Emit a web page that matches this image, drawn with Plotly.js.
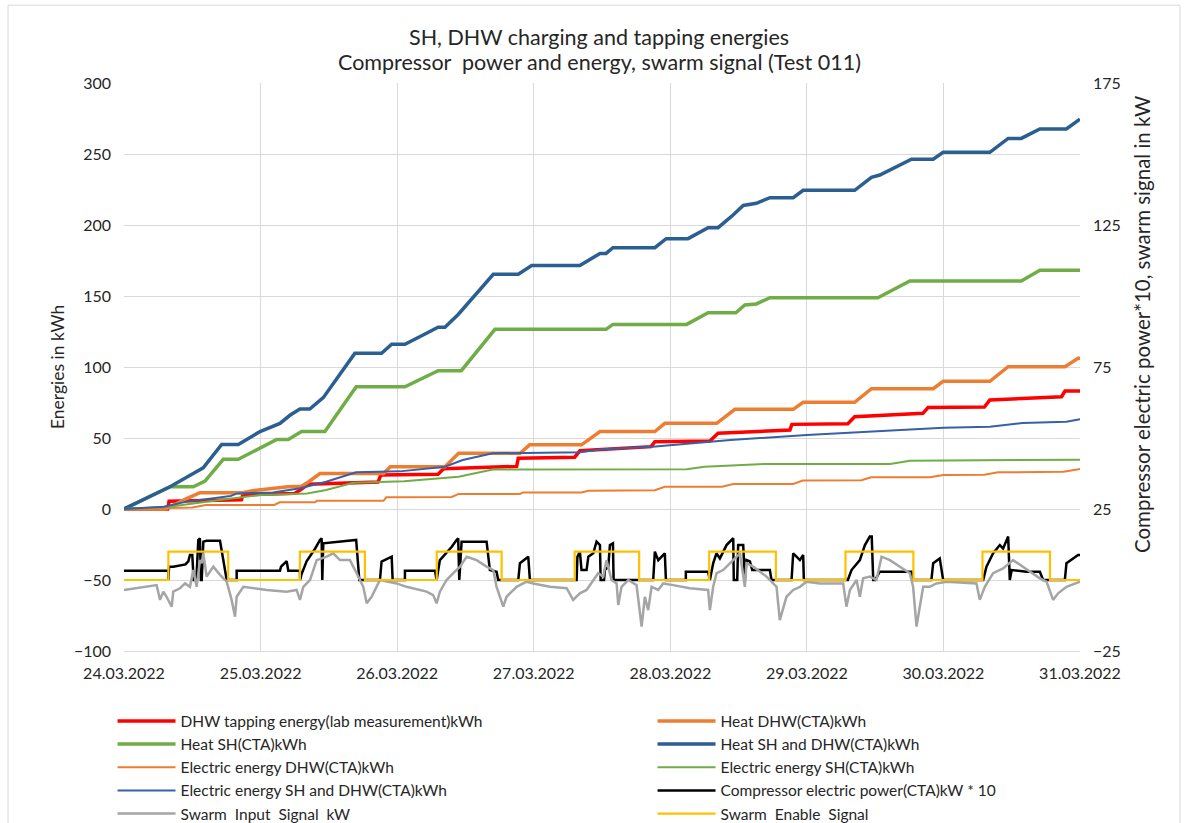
<!DOCTYPE html>
<html>
<head>
<meta charset="utf-8">
<script src="https://cdn.plot.ly/plotly-3.0.1.min.js"></script>
<style>
  html, body { margin: 0; padding: 0; background: #fff; }
  #chart { width: 1189px; height: 823px; }
</style>
</head>
<body>
<div id="chart"></div>
<script>
// ---- Data (time in days after 24.03.2022 00:00) ----
const tickDates = ["2022-03-24","2022-03-25","2022-03-26","2022-03-27","2022-03-28","2022-03-29","2022-03-30","2022-03-31"];
const titleLines = ["SH, DHW charging and tapping energies", "Compressor  power and energy, swarm signal (Test 011)"];

// DHW tapping energy (lab measurement) kWh
const tTapping = [0, 0.32, 0.33, 0.86, 0.87, 1.25, 1.29, 1.35, 1.86, 1.88, 2.30, 2.34, 2.875, 2.887, 3.30, 3.338, 3.86, 3.887, 4.29, 4.35, 4.876, 4.89, 5.30, 5.35, 5.85, 5.887, 6.30, 6.34, 6.865, 6.89, 7.0];
const vTapping = [0, 0, 5.5, 6.5, 9.9, 11, 13.4, 17.5, 19, 23.9, 24.5, 28.4, 30, 35.7, 36.5, 41, 43.9, 47.4, 47.8, 53.3, 55.6, 59.6, 60, 65, 67.4, 71.4, 71.8, 76.8, 79.1, 83.1, 83.1];

// Heat DHW (CTA) kWh
const tHeatDHW = [0, 0.30, 0.34, 0.45, 0.556, 0.87, 0.95, 1.20, 1.30, 1.35, 1.435, 1.90, 1.95, 2.35, 2.45, 2.90, 2.97, 3.35, 3.485, 3.887, 3.96, 4.34, 4.473, 4.90, 4.973, 5.35, 5.473, 5.925, 5.998, 6.34, 6.474, 6.89, 6.986, 7.0];
const vHeatDHW = [0, 0, 1.6, 7, 11.5, 11.5, 13, 15.7, 16, 19, 25, 25, 29.8, 29.8, 39.2, 39.2, 45.2, 45.2, 54.5, 54.5, 60.3, 60.3, 70.2, 70.2, 75.1, 75.1, 84.7, 84.7, 89.9, 89.9, 100.2, 100.2, 106.1, 106.1];

// Heat SH (CTA) kWh
const tHeatSH = [0, 0.337, 0.507, 0.593, 0.727, 0.837, 1.118, 1.203, 1.30, 1.471, 1.70, 2.057, 2.30, 2.47, 2.716, 3.53, 3.58, 4.12, 4.277, 4.48, 4.546, 4.63, 4.73, 5.52, 5.754, 6.57, 6.706, 7.0];
const vHeatSH = [0, 15.7, 15.7, 19.7, 35, 35, 49, 49, 54.5, 54.5, 86.1, 86.1, 97.4, 97.4, 126.5, 126.5, 130, 130, 138.2, 138.2, 143.7, 144.4, 148.8, 148.8, 160.6, 160.6, 168.1, 168.1];

// Heat SH and DHW (CTA) kWh
const tHeatTotal = [0, 0.337, 0.507, 0.58, 0.715, 0.837, 0.996, 1.142, 1.215, 1.288, 1.36, 1.459, 1.69, 1.886, 1.96, 2.057, 2.19, 2.30, 2.35, 2.447, 2.704, 2.887, 2.985, 3.338, 3.485, 3.53, 3.58, 3.887, 3.97, 4.13, 4.277, 4.35, 4.46, 4.534, 4.63, 4.73, 4.90, 4.973, 5.35, 5.473, 5.534, 5.766, 5.925, 5.998, 6.34, 6.474, 6.57, 6.706, 6.90, 6.986, 7.0];
const vHeatTotal = [0, 15.7, 25, 29, 45.5, 45.5, 54.5, 60.3, 66, 70.4, 70.4, 78.4, 109.6, 109.6, 116, 116, 122.5, 128, 128, 137, 165.3, 165.3, 171.4, 171.4, 180, 180, 184, 184, 190.4, 190.4, 198.1, 198.1, 207, 213.8, 215.3, 219.2, 219.2, 224.4, 224.4, 233.6, 235.2, 246.3, 246.3, 251.2, 251.2, 261, 261, 267.6, 267.6, 274.2, 274.5];

// Electric energy DHW (CTA) kWh
const tElecDHW = [0, 0.5, 0.6, 1.1, 1.14, 1.40, 1.41, 1.90, 1.92, 2.40, 2.45, 2.90, 2.92, 3.35, 3.40, 3.887, 3.96, 4.38, 4.46, 4.90, 4.97, 5.40, 5.47, 5.90, 6.0, 6.30, 6.40, 6.88, 7.0];
const vElecDHW = [0, 1, 2.8, 2.8, 4.7, 4.7, 5.8, 5.8, 8.2, 8.5, 10.6, 10.6, 11.7, 11.7, 12.9, 13.2, 15.7, 15.7, 17.6, 17.6, 20, 20.2, 22.3, 22.3, 24, 24.2, 25.8, 26.2, 28.2];

// Electric energy SH (CTA) kWh
const tElecSH = [0, 0.33, 0.70, 0.90, 1.0, 1.34, 1.48, 1.68, 2.0, 2.05, 2.45, 2.70, 4.12, 4.25, 4.69, 5.61, 5.754, 7.0];
const vElecSH = [0, 1.6, 6.3, 8.7, 9.9, 11, 13.4, 18.5, 19.2, 19.5, 22.7, 27.8, 28, 29.8, 31.7, 31.7, 34, 34.7];

// Electric energy SH and DHW (CTA) kWh
const tElecTotal = [0, 0.29, 0.46, 0.78, 0.83, 1.09, 1.29, 1.48, 1.70, 2.02, 2.35, 2.48, 2.70, 3.34, 3.5, 3.87, 4.44, 5.0, 5.48, 6.0, 6.34, 6.58, 6.9, 7.0];
const vElecTotal = [0, 1.6, 5.2, 9.2, 11, 11.7, 14.6, 19.2, 25.8, 26.5, 29.8, 34.5, 39.2, 40, 42, 43.9, 48.6, 52.1, 54.5, 57.3, 58, 60.5, 61.5, 63.2];

// Compressor electric power (CTA) kW * 10  (right axis)
const tCompressor = [0, 0.325, 0.325, 0.33, 0.361, 0.45, 0.471, 0.483, 0.50, 0.51,
  0.53, 0.544, 0.556, 0.563, 0.569, 0.581, 0.605, 0.703, 0.752, 0.825,
  0.825, 1.142, 1.15, 1.191, 1.203, 1.288, 1.29, 1.30, 1.337, 1.40,
  1.435, 1.447, 1.452, 1.459, 1.70, 1.723, 1.874, 1.886, 1.96, 1.967,
  2.057, 2.057, 2.277, 2.289, 2.313, 2.40, 2.435, 2.447, 2.455, 2.472,
  2.655, 2.679, 2.728, 2.74, 2.887, 2.899, 2.96, 2.972, 3.314, 3.32,
  3.338, 3.35, 3.387, 3.40, 3.436, 3.46, 3.485, 3.49, 3.515, 3.521,
  3.546, 3.558, 3.58, 3.585, 3.875, 3.887, 3.912, 3.96, 3.968, 4.114,
  4.114, 4.277, 4.29, 4.314, 4.338, 4.363, 4.412, 4.461, 4.465, 4.49,
  4.497, 4.534, 4.546, 4.558, 4.583, 4.60, 4.729, 4.741, 4.888, 4.9,
  4.949, 4.973, 4.978, 5.30, 5.327, 5.388, 5.425, 5.461, 5.475, 5.486,
  5.50, 5.534, 5.766, 5.778, 5.912, 5.925, 5.973, 5.998, 6.291, 6.315,
  6.364, 6.413, 6.437, 6.474, 6.486, 6.50, 6.608, 6.706, 6.73, 6.889,
  6.901, 6.95, 6.986, 7.0];
const vCompressor = [3.3, 3.3, 0, 4.7, 4.7, 5.5, 6.6, 8.8, 8.8, 0,
  0, 14.1, 14.7, 0, 0, 13.5, 13.8, 13.8, 0, 0,
  3.3, 3.3, 4.7, 6.6, 3.3, 3.3, 0, 2.0, 6.6, 11.1,
  14.1, 14.7, 0, 12.9, 14.1, 0, 0, 6.5, 8.2, 0,
  0, 3.3, 3.3, 0, 7.0, 11.7, 14.1, 14.7, 0, 13.5,
  13.5, 3.5, 2.9, 0, 0, 5.9, 8.2, 0, 0, 8.2,
  10, 3.5, 3.5, 8.2, 9.4, 13.5, 12.3, 0, 0, 3.5,
  4.7, 12.3, 12.9, 0, 0, 10, 7.0, 9.4, 0, 0,
  2.9, 2.9, 0, 5.9, 9.4, 7.6, 12.3, 14.7, 0, 0,
  12.3, 12.3, 0, 7.0, 6.5, 3.5, 3.5, 0, 0, 9.4,
  7.0, 8.8, 0, 0, 3.5, 7.0, 12.3, 15.3, 15.3, 0,
  0, 2.9, 2.9, 0, 0, 5.9, 7.6, 0, 0, 4.7,
  9.4, 12.3, 11.1, 15.3, 0, 3.5, 2.9, 2.9, 0, 0,
  5.9, 7.6, 8.8, 8.8];

// Swarm Input Signal kW (right axis)
const tSwarmInput = [0, 0.239, 0.264, 0.288, 0.312, 0.349, 0.361, 0.41, 0.447, 0.483,
  0.507, 0.532, 0.556, 0.569, 0.581, 0.605, 0.654, 0.703, 0.752, 0.788,
  0.813, 0.825, 0.874, 0.947, 1.045, 1.191, 1.264, 1.288, 1.313, 1.362,
  1.411, 1.484, 1.532, 1.581, 1.654, 1.703, 1.752, 1.777, 1.813, 1.874,
  1.947, 1.996, 2.069, 2.216, 2.264, 2.289, 2.313, 2.362, 2.411, 2.46,
  2.509, 2.582, 2.655, 2.704, 2.728, 2.777, 2.801, 2.875, 2.948, 2.996,
  3.119, 3.241, 3.289, 3.338, 3.387, 3.436, 3.472, 3.509, 3.533, 3.570,
  3.607, 3.619, 3.643, 3.692, 3.753, 3.790, 3.814, 3.838, 3.863, 3.912,
  3.948, 4.021, 4.143, 4.277, 4.29, 4.314, 4.339, 4.387, 4.436, 4.485,
  4.51, 4.546, 4.558, 4.607, 4.705, 4.778, 4.802, 4.851, 4.9, 4.949,
  4.998, 5.095, 5.266, 5.29, 5.315, 5.364, 5.388, 5.412, 5.461, 5.51,
  5.547, 5.608, 5.681, 5.754, 5.778, 5.803, 5.827, 5.852, 5.9, 5.949,
  6.023, 6.242, 6.266, 6.303, 6.364, 6.437, 6.51, 6.584, 6.657, 6.706,
  6.755, 6.803, 6.84, 6.901, 7.0];
const vSwarmInput = [-3.5, -1.8, -7.0, -4.1, -5.9, -9.4, -4.1, -2.9, -1.2, -2.4,
  3.5, -2.4, 7.0, 5.9, 9.4, 1.2, 4.7, 1.8, -0.6, -7.0,
  -12.9, -5.9, -2.4, -2.9, -3.5, -4.1, -3.5, -7.0, -2.4, 0,
  7.0, 8.2, 9.4, 7.0, 7.0, 2.4, -2.4, -8.2, -5.9, 0,
  -0.6, -1.2, -2.4, -4.1, -5.3, -8.2, -4.1, 0, 2.4, 4.7,
  8.2, 7.0, 4.7, 3.5, -2.4, -9.4, -5.9, -2.4, -0.6, -1.2,
  -2.4, -2.9, -7.0, -4.7, -3.5, 0, 2.4, 1.2, 7.0, 0,
  -1.2, -8.8, -2.4, 0, -1.8, -16.4, -5.9, -10.6, -2.4, -3.5,
  -1.2, -1.8, -2.9, -3.5, -10.6, -2.4, 2.4, 3.5, 5.9, 8.2,
  9.4, -2.4, 5.9, 4.7, 1.2, -2.4, -14.1, -5.9, -3.5, -2.4,
  -0.6, -1.2, -1.2, -9.4, -3.5, 0, -5.9, 0.6, 1.2, 0,
  8.2, 7.0, 4.7, 2.4, -2.4, -16.4, -9.4, -2.4, -2.4, -1.2,
  -0.6, -1.2, -7.0, -2.4, 2.4, 4.1, 7.0, 4.7, 2.4, 0.6,
  -0.6, -7.0, -4.7, -2.4, -0.6];

// Swarm Enable Signal (right axis, step)
const tSwarmEnable = [0, 0.325, 0.763, 1.288, 1.764, 2.29, 2.765, 3.30, 3.772, 4.285, 4.773, 5.283, 5.78, 6.286, 6.78, 7.0];
const vSwarmEnable = [0, 10, 0, 10, 0, 10, 0, 10, 0, 10, 0, 10, 0, 10, 0, 0];

// ---- helpers ----
const BASE = Date.UTC(2022, 2, 24);
function toDates(days) {
  return days.map(d => new Date(BASE + Math.round(d * 86400000)).toISOString().replace('T', ' ').slice(0, 19));
}

const FONT = 'Lato, "Open Sans", "DejaVu Sans", sans-serif';
const TXT = '#262626';

function mk(name, t, v, color, width, axis, shape) {
  return {
    type: 'scatter', mode: 'lines', name: name,
    x: toDates(t), y: v, yaxis: axis || 'y',
    line: { color: color, width: width, shape: shape || 'linear' },
    hoverinfo: 'skip'
  };
}

const traces = [
  mk('DHW tapping energy(lab measurement)kWh', tTapping, vTapping, '#FF0000', 3.5),
  mk('Heat DHW(CTA)kWh', tHeatDHW, vHeatDHW, '#ED7D31', 3.5),
  mk('Heat SH(CTA)kWh', tHeatSH, vHeatSH, '#70AD47', 3.5),
  mk('Heat SH and DHW(CTA)kWh', tHeatTotal, vHeatTotal, '#2B5E91', 3.5),
  mk('Electric energy DHW(CTA)kWh', tElecDHW, vElecDHW, '#ED7D31', 2),
  mk('Electric energy SH(CTA)kWh', tElecSH, vElecSH, '#70AD47', 2),
  mk('Electric energy SH and DHW(CTA)kWh', tElecTotal, vElecTotal, '#3660A8', 2),
  mk('Compressor electric power(CTA)kW * 10', tCompressor, vCompressor, '#000000', 2.5, 'y2'),
  mk('Swarm  Input  Signal  kW', tSwarmInput, vSwarmInput, '#A5A5A5', 2.5, 'y2'),
  mk('Swarm  Enable  Signal', tSwarmEnable, vSwarmEnable, '#FFC000', 2.2, 'y2', 'hv')
];

const layout = {
  width: 1189, height: 823,
  margin: { l: 124, r: 109, t: 83, b: 172, autoexpand: false },
  paper_bgcolor: '#ffffff', plot_bgcolor: '#ffffff',
  font: { family: FONT, size: 16, color: TXT },
  showlegend: true,
  xaxis: {
    type: 'date',
    range: [tickDates[0], tickDates[tickDates.length - 1]],
    tickvals: tickDates,
    tickformat: '%d.%m.%Y',
    showgrid: true, gridcolor: '#D9D9D9', gridwidth: 1,
    showline: true, linecolor: '#D9D9D9', linewidth: 1,
    ticks: '', ticklabelstandoff: 8,
    zeroline: false,
    tickfont: { family: FONT, size: 16, color: TXT }
  },
  yaxis: {
    range: [-100, 300], dtick: 50, tick0: 0,
    showgrid: true, gridcolor: '#D9D9D9', gridwidth: 1,
    zeroline: false, showline: false,
    ticks: '', ticklabelstandoff: 12,
    tickfont: { family: FONT, size: 16, color: TXT }
  },
  yaxis2: {
    overlaying: 'y', side: 'right',
    range: [-25, 175], dtick: 50, tick0: 25,
    showgrid: false, zeroline: false, showline: false,
    ticks: '', ticklabelstandoff: 12,
    tickfont: { family: FONT, size: 16, color: TXT }
  },
  legend: {
    orientation: 'h',
    x: -0.012, xanchor: 'left',
    y: -0.094, yanchor: 'top',
    entrywidth: 467, entrywidthmode: 'pixels',
    itemwidth: 58,
    traceorder: 'normal',
    font: { family: FONT, size: 15.5, color: TXT },
    bgcolor: 'rgba(0,0,0,0)'
  },
  annotations: [
    {
      text: titleLines[0],
      xref: 'paper', yref: 'paper', x: 0.4969, y: 1.081,
      xanchor: 'center', yanchor: 'middle', showarrow: false,
      font: { family: FONT, size: 21.5, color: TXT }
    },
    {
      text: titleLines[1],
      xref: 'paper', yref: 'paper', x: 0.4969, y: 1.037,
      xanchor: 'center', yanchor: 'middle', showarrow: false,
      font: { family: FONT, size: 21.5, color: TXT }
    },
    {
      text: 'Energies in kWh', textangle: -90,
      xref: 'paper', yref: 'paper', x: -0.070, y: 0.5,
      xanchor: 'center', yanchor: 'middle', showarrow: false,
      font: { family: FONT, size: 17.5, color: TXT }
    },
    {
      text: 'Compressor electric power*10, swarm signal in kW', textangle: -90,
      xref: 'paper', yref: 'paper', x: 1.0649, y: 0.574,
      xanchor: 'center', yanchor: 'middle', showarrow: false,
      font: { family: FONT, size: 20.5, color: TXT }
    }
  ],
  shapes: [
    {
      type: 'rect', xref: 'paper', yref: 'paper',
      x0: -0.1213, x1: 1.1046, y0: -0.35, y1: 1.137,
      line: { color: '#D9D9D9', width: 1 }, fillcolor: 'rgba(0,0,0,0)', layer: 'below'
    }
  ]
};

Plotly.newPlot('chart', traces, layout, { displayModeBar: false, staticPlot: true });
</script>
</body>
</html>
